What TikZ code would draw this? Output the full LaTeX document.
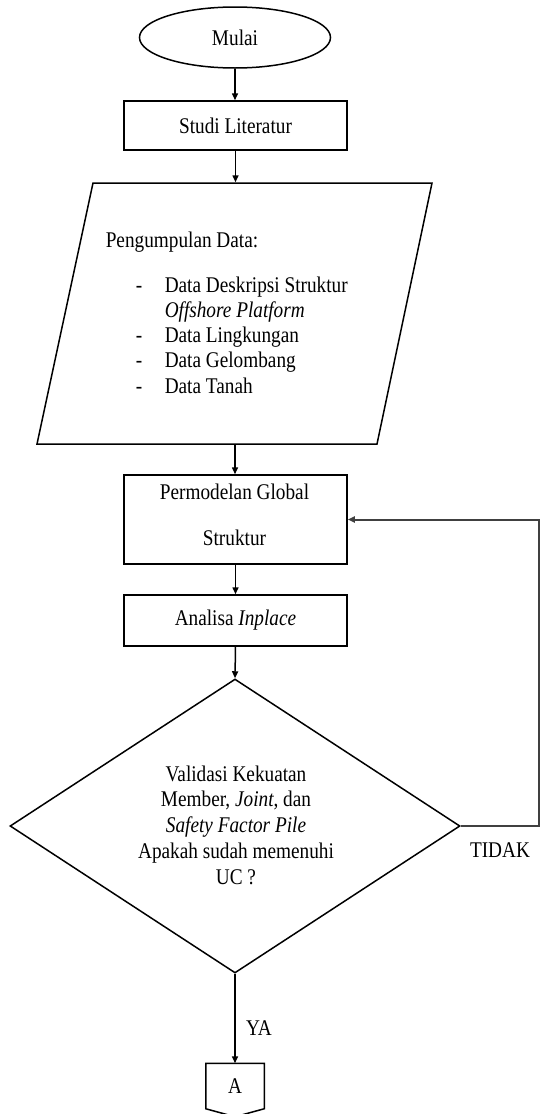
\documentclass[tikz,border=0pt]{standalone}
\usepackage{fontspec}
\setmainfont{Liberation Serif}[FakeStretch=0.86]
\usetikzlibrary{shapes.geometric,arrows.meta}
\begin{document}
\begin{tikzpicture}[x=1pt,y=-1pt, line width=1.5pt,
  every node/.style={font=\fontsize{22.4}{25.8}\selectfont, inner sep=0pt},
  boxshape/.style={draw, rectangle, minimum width=223pt},
  arr/.style={-{Triangle[length=7pt,width=6pt]}},
  fback/.style={draw=black!75, line width=2pt},
]
\useasboundingbox (0,0) rectangle (540,1114);

\node[ellipse, draw, minimum width=191pt, minimum height=61pt] (mulai) at (235,37.5) {Mulai};
\node[boxshape, minimum height=49pt] (studi) at (235.5,125.5) {Studi Literatur};

% parallelogram
\node[minimum width=283pt, minimum height=261pt] (para) at (235,313.5) {};
\draw (93,183) -- (432,183) -- (377,444) -- (37,444) -- cycle;
\node[anchor=base west] (p0) at (105,247) {Pengumpulan Data:};
\node[anchor=base west] (d1) at (135,292) {-};
\node[anchor=base west] (t1) at (164,292) {Data Deskripsi Struktur};
\node[anchor=base west] (t1b) at (164,317) {\textit{Offshore Platform}};
\node[anchor=base west] (d2) at (135,342) {-};
\node[anchor=base west] (t2) at (164,342) {Data Lingkungan};
\node[anchor=base west] (d3) at (135,367) {-};
\node[anchor=base west] (t3) at (164,367) {Data Gelombang};
\node[anchor=base west] (d4) at (135,393) {-};
\node[anchor=base west] (t4) at (164,393) {Data Tanah};

\node[boxshape, minimum height=89pt] (model) at (235.5,519.5) {};
\node[anchor=base] (model1) at (234.5,499) {Permodelan Global};
\node[anchor=base] (model2) at (234.5,545) {Struktur};

\node[boxshape, minimum height=51pt] (analisa) at (235.5,620.5) {Analisa \textit{Inplace}};

\node[diamond, draw, minimum width=450pt, minimum height=294pt] (dec) at (235,826) {};
\node[align=center] (dectext) at (236,825) {Validasi Kekuatan\\Member, \textit{Joint}, dan\\\textit{Safety Factor Pile}\\Apakah sudah memenuhi\\UC ?};

\node[minimum width=57pt, minimum height=44pt] (con) at (235,1086) {A};
\draw (con.north west) -- (con.north east) -- (con.south east) -- ([yshift=-8pt]con.south) -- (con.south west) -- cycle;

% connectors
\draw[arr] (mulai.south) -- (mulai.south |- studi.north);
\draw[arr] (studi.south) -- (studi.south |- para.north);
\draw[arr] (para.south) -- (para.south |- model.north);
\draw[arr] (model.south) -- (analisa.north);
\draw[arr] (analisa.south) -- (dec.north);
\draw[arr] (dec.south) -- (con.north);
\node (ya) at (259,1028) {YA};
\coordinate (fbr) at (538.5,826);
\draw[fback, arr] (dec.east) -- (fbr) |- (model.east);
\node (tidak) at (500,850) {TIDAK};
\end{tikzpicture}
\end{document}
